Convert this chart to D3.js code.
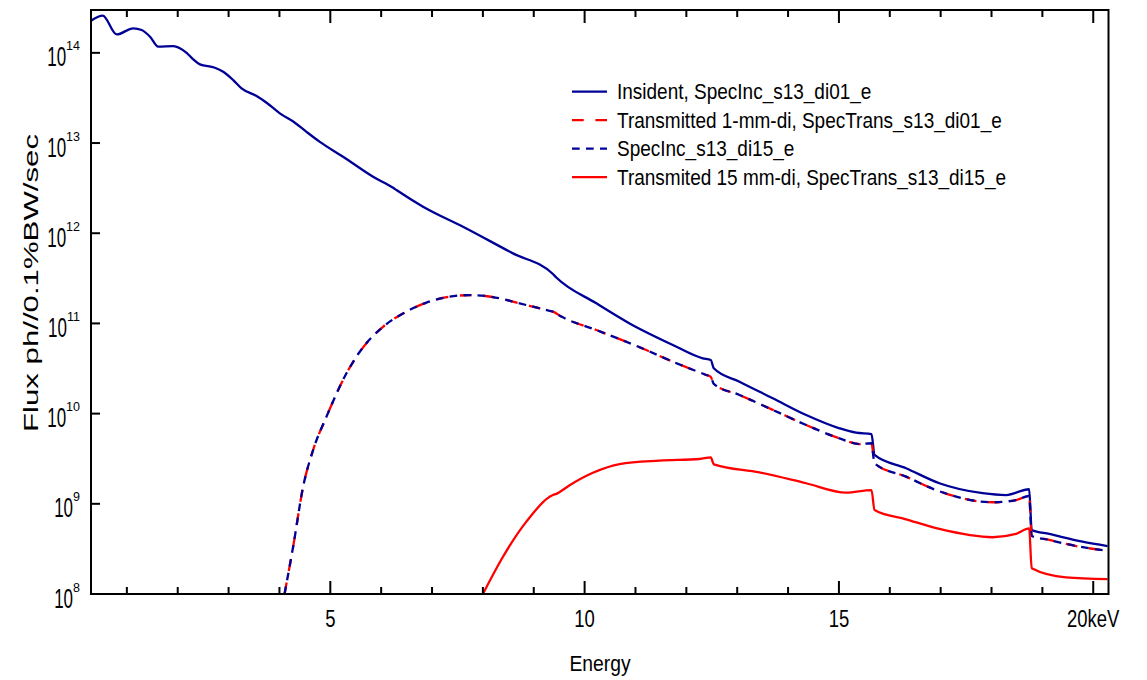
<!DOCTYPE html>
<html lang="en">
  <head>
    <meta charset="UTF-8" />
    <title>Flux spectra</title>
    <script src="https://cdn.jsdelivr.net/npm/d3@7"></script>
    <style>
      body { margin: 0; background: #fff; }
      svg { display: block; }
      text { font-family: "Liberation Sans", Arial, sans-serif; fill: #000; }
    </style>
  </head>
  <body>
    <svg width="1147" height="680"></svg>
    <script>
      // energies in keV, flux in ph/0.1%BW/sec
      const incE = [0.295, 0.525, 0.80, 1.126, 1.291, 1.456, 1.617, 1.912, 2.175, 2.305, 2.436, 2.731, 2.894, 3.091, 3.255, 3.55, 3.747, 4.008, 4.303, 4.532, 4.794, 5.251, 5.841, 6.234, 6.30, 6.823, 7.609, 8.591, 9.377, 9.444, 10.23, 10.884, 11.735, 12.324, 12.48, 12.54, 13.045, 13.699, 14.356, 15.01, 15.338, 15.64, 15.70, 16.32, 16.975, 17.825, 18.285, 18.74, 18.79, 19.136, 19.79, 20.281];
      const incF = [2.27e14, 2.58e14, 1.60e14, 1.87e14, 1.79e14, 1.51e14, 1.17e14, 1.19e14, 1.00e14, 8.47e13, 7.45e13, 6.84e13, 6.17e13, 4.99e13, 4.04e13, 3.32e13, 2.80e13, 2.13e13, 1.68e13, 1.33e13, 1.03e13, 7.05e12, 4.23e12, 3.19e12, 3.01e12, 1.97e12, 1.18e12, 5.98e11, 3.53e11, 3.23e11, 1.67e11, 1.00e11, 5.77e10, 4.10e10, 3.93e10, 3.18e10, 2.26e10, 1.48e10, 9.64e9, 6.87e9, 6.14e9, 5.94e9, 3.48e9, 2.48e9, 1.69e9, 1.31e9, 1.25e9, 1.45e9, 5.13e8, 4.63e8, 3.80e8, 3.40e8];

      const t1E = [4.10, 4.269, 4.466, 4.662, 4.925, 5.318, 5.58, 6.037, 6.43, 6.89, 7.348, 7.741, 8.33, 8.591, 9.312, 9.377, 9.542, 10.23, 11.212, 11.735, 12.391, 12.48, 12.54, 13.045, 13.699, 14.356, 15.01, 15.403, 15.64, 15.70, 16.32, 16.91, 18.022, 18.481, 18.74, 18.79, 19.136, 19.79, 20.281];
      const t1F = [1.0e8, 3.34e8, 1.55e9, 3.95e9, 9.25e9, 2.80e10, 4.85e10, 9.18e10, 1.29e11, 1.70e11, 1.98e11, 2.06e11, 1.90e11, 1.74e11, 1.38e11, 1.35e11, 1.19e11, 8.45e10, 5.07e10, 3.76e10, 2.68e10, 2.56e10, 2.13e10, 1.61e10, 1.10e10, 7.48e9, 5.32e9, 4.60e9, 4.69e9, 2.81e9, 2.00e9, 1.42e9, 1.04e9, 1.10e9, 1.22e9, 4.40e8, 3.97e8, 3.30e8, 3.02e8];

      // SpecInc_s13_di15_e lies on top of the 1 mm transmitted spectrum
      const i15E = t1E.slice();
      const i15F = t1F.slice();

      const t15E = [8.0, 8.395, 8.855, 9.377, 9.444, 9.705, 10.163, 10.688, 11.474, 12.26, 12.48, 12.54, 13.438, 14.356, 15.141, 15.64, 15.70, 16.32, 16.975, 18.022, 18.481, 18.74, 18.79, 19.464, 20.281];
      const t15F = [1.0e8, 2.59e8, 6.34e8, 1.25e9, 1.29e9, 1.61e9, 2.21e9, 2.76e9, 3.01e9, 3.14e9, 3.28e9, 2.74e9, 2.23e9, 1.69e9, 1.33e9, 1.42e9, 8.54e8, 6.73e8, 5.26e8, 4.26e8, 4.63e8, 5.35e8, 1.93e8, 1.53e8, 1.46e8];

      const xMajor = [5, 10, 15, 20];
      const xMinor = [1, 2, 3, 4, 6, 7, 8, 9, 11, 12, 13, 14, 16, 17, 18, 19];
      const yExp = [8, 9, 10, 11, 12, 13, 14];
      const legendLabels = [
        "Insident, SpecInc_s13_di01_e",
        "Transmitted 1-mm-di, SpecTrans_s13_di01_e",
        "SpecInc_s13_di15_e",
        "Transmited 15 mm-di, SpecTrans_s13_di15_e"
      ];

      const navy = "#000096";
      const red = "#ff0000";
      const styles = [
        { color: navy, dash: null },
        { color: red, dash: "11.7,11.7" },
        { color: navy, dash: "7.7,6.3" },
        { color: red, dash: null }
      ];
      const series = [
        d3.zip(incE, incF),
        d3.zip(t1E, t1F),
        d3.zip(i15E, i15F),
        d3.zip(t15E, t15F)
      ];

      const svg = d3.select("svg");
      const x = d3.scaleLinear().domain([0.295, 20.3]).range([91, 1108.5]);
      const y = d3.scaleLog().domain([1e8, Math.pow(10, 14.475)]).range([594, 10]);
      const [x0, x1] = x.range();
      const [y0, y1] = y.range();

      svg.append("clipPath").attr("id", "plot")
        .append("rect")
        .attr("x", x0).attr("y", y1)
        .attr("width", x1 - x0).attr("height", y0 - y1);

      const line = d3.line()
        .x(d => x(d[0]))
        .y(d => y(d[1]))
        .curve(d3.curveMonotoneX);

      svg.append("g").attr("clip-path", "url(#plot)")
        .selectAll("path")
        .data(series)
        .join("path")
        .attr("d", line)
        .attr("fill", "none")
        .attr("stroke", (d, i) => styles[i].color)
        .attr("stroke-width", 2.3)
        .attr("stroke-dasharray", (d, i) => styles[i].dash);

      // ticks, pointing inward (drawn as small filled rects)
      const xt = xMajor.map(v => ({ v, len: 13 })).concat(xMinor.map(v => ({ v, len: 7 })));
      const tg = svg.append("g").attr("fill", "#000");
      tg.selectAll(".xb").data(xt).join("rect").attr("class", "xb")
        .attr("x", d => x(d.v) - 1).attr("width", 2)
        .attr("y", d => y0 - d.len).attr("height", d => d.len);
      tg.selectAll(".xt").data(xt).join("rect").attr("class", "xt")
        .attr("x", d => x(d.v) - 1).attr("width", 2)
        .attr("y", y1).attr("height", d => d.len);
      tg.selectAll(".yl").data(yExp).join("rect").attr("class", "yl")
        .attr("x", x0).attr("width", 9)
        .attr("y", d => y(Math.pow(10, d)) - 1).attr("height", 2);

      svg.append("rect")
        .attr("x", x0).attr("y", y1)
        .attr("width", x1 - x0).attr("height", y0 - y1)
        .attr("fill", "none").attr("stroke", "#000").attr("stroke-width", 2);

      // x tick labels
      svg.append("g").selectAll("text")
        .data(xMajor)
        .join("text")
        .attr("transform", d => `translate(${x(d)},627) scale(1,1.33)`)
        .attr("text-anchor", "middle")
        .attr("font-size", 18.5)
        .text(d => d === 20 ? "20keV" : d);

      // y tick labels 10^n
      const yl = svg.append("g");
      yExp.forEach(e => {
        const ty = y(Math.pow(10, e));
        const sup = yl.append("text")
          .attr("x", 80).attr("y", ty - 2.5)
          .attr("text-anchor", "end")
          .attr("font-size", 12.5)
          .text(e);
        const w = sup.node().getComputedTextLength();
        yl.append("text")
          .attr("transform", `translate(${80 - w},${ty + 13.5}) scale(1,1.64)`)
          .attr("text-anchor", "end")
          .attr("font-size", 17)
          .text("10");
      });

      svg.append("text")
        .attr("transform", "translate(38,283) rotate(-90) scale(1.6,1)")
        .attr("text-anchor", "middle")
        .attr("font-size", 19.5)
        .text("Flux ph//0.1%BW/sec");

      svg.append("text")
        .attr("transform", "translate(600,671) scale(1,1.1)")
        .attr("text-anchor", "middle")
        .attr("font-size", 19.3)
        .text("Energy");

      // legend
      const lg = svg.append("g").selectAll("g")
        .data(legendLabels)
        .join("g")
        .attr("transform", (d, i) => `translate(572,${91.7 + i * 28.5})`);
      lg.append("line")
        .attr("x1", 0).attr("x2", 35)
        .attr("stroke", (d, i) => styles[i].color)
        .attr("stroke-width", 2.3)
        .attr("stroke-dasharray", (d, i) => styles[i].dash);
      lg.append("text")
        .attr("transform", "translate(45,7.5) scale(1,1.12)")
        .attr("font-size", 19)
        .text(d => d);
    </script>
  </body>
</html>
